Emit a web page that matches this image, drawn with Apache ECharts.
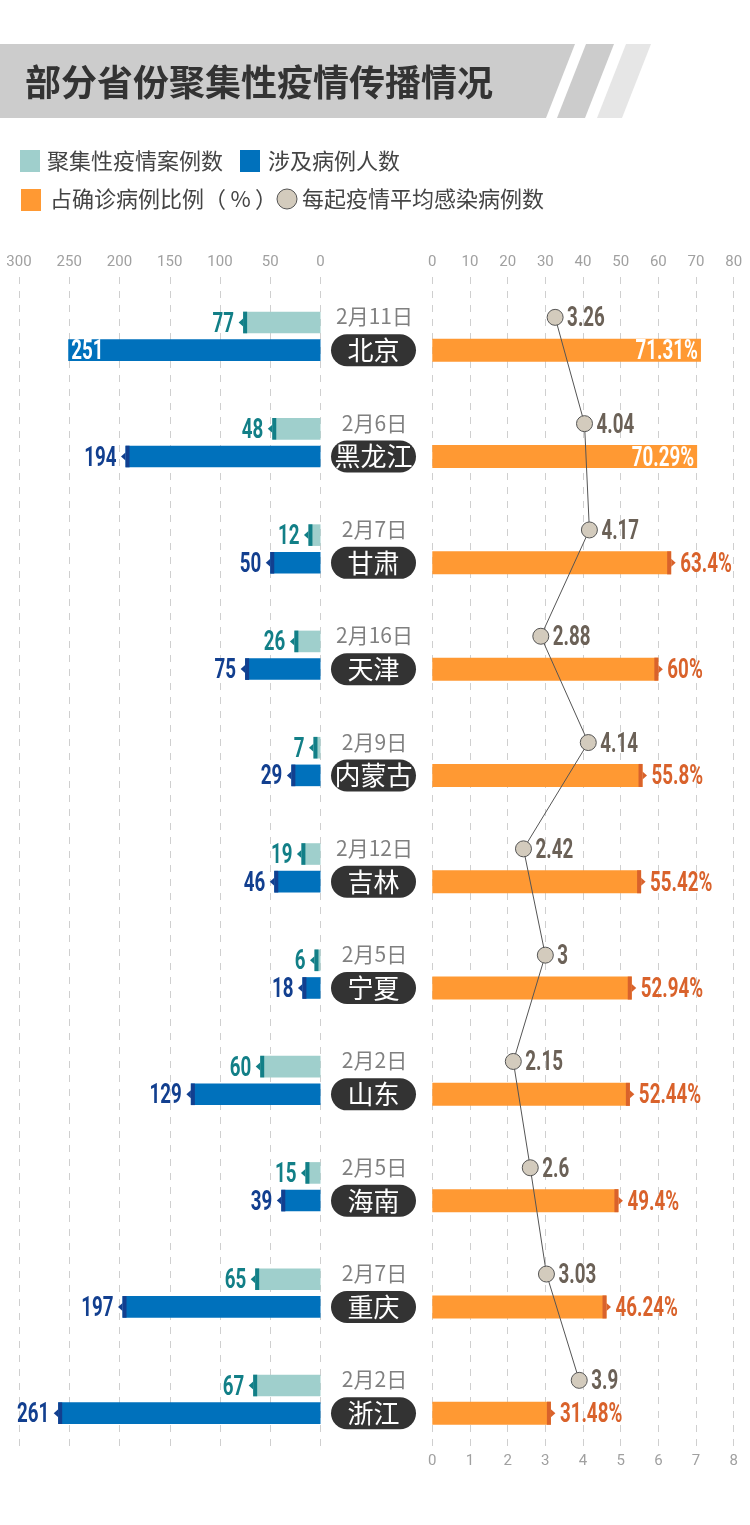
<!DOCTYPE html>
<html>
<head>
<meta charset="utf-8">
<title>部分省份聚集性疫情传播情况</title>
<style>
  html, body { margin: 0; padding: 0; background: #fff; }
  #chart { width: 750px; height: 1525px; }
</style>
<script src="https://cdn.jsdelivr.net/npm/echarts@6/dist/echarts.min.js"></script>
</head>
<body>
<div id="chart"></div>
<script>
(function () {
  const ROWS = [
    { name: '北京', date: '2月11日', clusters: 77, cases: 251, share: 71.31, avg: 3.26 },
    { name: '黑龙江', date: '2月6日', clusters: 48, cases: 194, share: 70.29, avg: 4.04 },
    { name: '甘肃', date: '2月7日', clusters: 12, cases: 50, share: 63.4, avg: 4.17 },
    { name: '天津', date: '2月16日', clusters: 26, cases: 75, share: 60, avg: 2.88 },
    { name: '内蒙古', date: '2月9日', clusters: 7, cases: 29, share: 55.8, avg: 4.14 },
    { name: '吉林', date: '2月12日', clusters: 19, cases: 46, share: 55.42, avg: 2.42 },
    { name: '宁夏', date: '2月5日', clusters: 6, cases: 18, share: 52.94, avg: 3 },
    { name: '山东', date: '2月2日', clusters: 60, cases: 129, share: 52.44, avg: 2.15 },
    { name: '海南', date: '2月5日', clusters: 15, cases: 39, share: 49.4, avg: 2.6 },
    { name: '重庆', date: '2月7日', clusters: 65, cases: 197, share: 46.24, avg: 3.03 },
    { name: '浙江', date: '2月2日', clusters: 67, cases: 261, share: 31.48, avg: 3.9 },
  ];
  const names = ROWS.map((r) => r.name);
  const NUM_FONT = 'Roboto, sans-serif';
  const CJK_FONT = '"Noto Sans CJK SC", sans-serif';
  const NUM_SCALE = 0.67; // no condensed face installed, so squeeze the numbers

  const LEFT_X = 19, LEFT_W = 301.5;
  const RIGHT_X = 432.3, RIGHT_W = 301.4;
  const BAND_TOTAL = 1169.3;
  const BAR_H = 21.6, BAR_OFFSET = 13.85;
  const PILL_CENTER = 373.5;

  function hiddenCategory(gridIndex, extra) {
    return Object.assign({
      type: 'category', gridIndex, data: names, inverse: true,
      axisLine: { show: false }, axisTick: { show: false }, axisLabel: { show: false },
      splitLine: { show: false },
    }, extra || {});
  }

  function frameAxis(gridIndex, position, max, interval, inverse, grid) {
    return {
      type: 'value', gridIndex, position, min: 0, max, interval, inverse,
      axisLine: { show: false }, axisTick: { show: false },
      axisLabel: { show: true, color: '#a0a0a0', fontFamily: NUM_FONT, fontSize: 15, margin: 7 },
      splitLine: { show: grid, lineStyle: { color: '#cfcfcf', type: [7, 7], width: 1 } },
    };
  }

  function hiddenValue(gridIndex, max, inverse) {
    return {
      type: 'value', gridIndex, min: 0, max, inverse,
      axisLine: { show: false }, axisTick: { show: false }, axisLabel: { show: false }, splitLine: { show: false },
    };
  }

  function numText(text, x, y, align, fill) {
    return {
      type: 'text', x, y: y + 2, scaleX: NUM_SCALE,
      style: { text, fill, font: 'bold 28px ' + NUM_FONT, textAlign: align, textVerticalAlign: 'middle' },
    };
  }

  // end cap with a small arrow and the value; high bars keep the value inside in white
  function endSeries(cfg) {
    return {
      type: 'custom', xAxisIndex: cfg.xAxisIndex, yAxisIndex: cfg.yAxisIndex, silent: true, z: 4,
      encode: { x: 0, y: 1 },
      data: ROWS.map((r, i) => [r[cfg.field], i]),
      renderItem: (params, api) => {
        const v = api.value(0);
        const p = api.coord([v, api.value(1)]);
        const y = p[1] + cfg.offsetY;
        const dir = cfg.dir;
        const text = v + (cfg.suffix || '');
        if (cfg.inside(v)) {
          return numText(text, p[0] - dir * 3, y, dir > 0 ? 'right' : 'left', '#fff');
        }
        const h = cfg.height;
        return {
          type: 'group',
          children: [
            { type: 'rect', shape: { x: dir > 0 ? p[0] - 4 : p[0], y: y - h / 2, width: 4, height: h }, style: { fill: cfg.color } },
            { type: 'polygon', shape: { points: [[p[0], y - 4], [p[0], y + 4], [p[0] + dir * 4.5, y]] }, style: { fill: cfg.color } },
            numText(text, p[0] + dir * 9, y, dir > 0 ? 'left' : 'right', cfg.textColor),
          ],
        };
      },
    };
  }

  const option = {
    animation: false,
    backgroundColor: '#fff',
    grid: [
      { left: LEFT_X, width: LEFT_W, top: 277, height: 1170 },
      { left: LEFT_X, width: LEFT_W, top: 283.2, height: BAND_TOTAL },
      { left: RIGHT_X, width: RIGHT_W, top: 277, height: 1170 },
      { left: RIGHT_X, width: RIGHT_W, top: 297.1, height: BAND_TOTAL },
      { left: RIGHT_X, width: RIGHT_W, top: 264.2, height: BAND_TOTAL },
    ],
    xAxis: [
      frameAxis(0, 'top', 300, 50, true, true),
      hiddenValue(1, 300, true),
      frameAxis(2, 'top', 80, 10, false, true),
      frameAxis(2, 'bottom', 8, 1, false, false),
      hiddenValue(3, 80, false),
      hiddenValue(4, 8, false),
    ],
    yAxis: [
      hiddenCategory(0),
      hiddenCategory(1),
      hiddenCategory(2),
      hiddenCategory(3, {
        axisLabel: {
          show: true, margin: RIGHT_X - PILL_CENTER, interval: 0, align: 'center',
          formatter: (v) => '{pill|' + v + '}',
          rich: {
            pill: {
              width: 85, height: 32, lineHeight: 32, align: 'center', borderRadius: 16,
              backgroundColor: '#333333', color: '#fff', fontFamily: CJK_FONT, fontSize: 26,
            },
          },
        },
      }),
      hiddenCategory(4, {
        axisLabel: {
          show: true, margin: RIGHT_X - PILL_CENTER - 1, interval: 0, align: 'center',
          formatter: (v) => '{d|' + ROWS[names.indexOf(v)].date + '}',
          rich: { d: { width: 85, align: 'center', color: '#808080', fontFamily: CJK_FONT, fontSize: 21, padding: [0, 0, 2, 0] } },
        },
      }),
    ],
    series: [
      {
        name: '聚集性疫情案例数', type: 'bar', xAxisIndex: 1, yAxisIndex: 1, barWidth: BAR_H, barGap: '28%',
        itemStyle: { color: '#9fcfcc' },
        data: ROWS.map((r) => r.clusters),
      },
      {
        name: '涉及病例人数', type: 'bar', xAxisIndex: 1, yAxisIndex: 1, barWidth: BAR_H,
        itemStyle: { color: '#0071bc' },
        data: ROWS.map((r) => r.cases),
      },
      endSeries({
        field: 'clusters', xAxisIndex: 1, yAxisIndex: 1, dir: -1, offsetY: -BAR_OFFSET, height: BAR_H,
        color: '#127f87', textColor: '#127f87', inside: () => false,
      }),
      endSeries({
        field: 'cases', xAxisIndex: 1, yAxisIndex: 1, dir: -1, offsetY: BAR_OFFSET, height: BAR_H,
        color: '#123f8f', textColor: '#123f8f', inside: (v) => v === 251,
      }),
      {
        name: '占确诊病例比例（%）', type: 'bar', xAxisIndex: 4, yAxisIndex: 3, barWidth: BAR_H + 1.4,
        itemStyle: { color: '#ff9933' },
        data: ROWS.map((r) => r.share),
      },
      endSeries({
        field: 'share', xAxisIndex: 4, yAxisIndex: 3, dir: 1, offsetY: 0, height: BAR_H + 1.4, suffix: '%',
        color: '#d9622b', textColor: '#d9622b', inside: (v) => v > 70,
      }),
      {
        name: '每起疫情平均感染病例数', type: 'line', xAxisIndex: 5, yAxisIndex: 4, z: 5,
        symbol: 'circle', symbolSize: 16,
        lineStyle: { color: '#555', width: 1 },
        itemStyle: { color: '#d3cbbd', borderColor: '#555', borderWidth: 1 },
        encode: { x: 0, y: 1 },
        data: ROWS.map((r, i) => [r.avg, i]),
      },
      {
        type: 'custom', xAxisIndex: 5, yAxisIndex: 4, silent: true, z: 6,
        encode: { x: 0, y: 1 },
        data: ROWS.map((r, i) => [r.avg, i]),
        renderItem: (params, api) => {
          const p = api.coord([api.value(0), api.value(1)]);
          return numText(String(api.value(0)), p[0] + 12, p[1], 'left', '#6b6157');
        },
      },
    ],
    graphic: [
      { type: 'polygon', shape: { points: [[0, 44], [575, 44], [546, 118], [0, 118]] }, style: { fill: '#cccccc' } },
      { type: 'polygon', shape: { points: [[586, 44], [614, 44], [585, 118], [557, 118]] }, style: { fill: '#cccccc' } },
      { type: 'polygon', shape: { points: [[626, 44], [651, 44], [622, 118], [597, 118]] }, style: { fill: '#e6e6e6' } },
      { type: 'text', x: 25, y: 82, style: { text: '部分省份聚集性疫情传播情况', fill: '#333333', font: 'bold 36px ' + CJK_FONT, textVerticalAlign: 'middle' } },

      { type: 'rect', shape: { x: 20, y: 150, width: 20, height: 22 }, style: { fill: '#9fcfcc' } },
      { type: 'text', x: 47, y: 161, style: { text: '聚集性疫情案例数', fill: '#444', font: '22px ' + CJK_FONT, textVerticalAlign: 'middle' } },
      { type: 'rect', shape: { x: 240, y: 150, width: 20, height: 22 }, style: { fill: '#0071bc' } },
      { type: 'text', x: 268, y: 161, style: { text: '涉及病例人数', fill: '#444', font: '22px ' + CJK_FONT, textVerticalAlign: 'middle' } },
      { type: 'rect', shape: { x: 21, y: 189, width: 20, height: 22 }, style: { fill: '#ff9933' } },
      { type: 'text', x: 50, y: 199, style: { text: '占确诊病例比例（\u2009%\u2009）', fill: '#444', font: '22px ' + CJK_FONT, textVerticalAlign: 'middle' } },
      { type: 'circle', shape: { cx: 287, cy: 199, r: 10 }, style: { fill: '#d3cbbd', stroke: '#555', lineWidth: 1 } },
      { type: 'text', x: 302, y: 199, style: { text: '每起疫情平均感染病例数', fill: '#444', font: '22px ' + CJK_FONT, textVerticalAlign: 'middle' } },
    ],
  };

  const chart = echarts.init(document.getElementById('chart'), null, { renderer: 'canvas' });
  chart.setOption(option);
})();
</script>
</body>
</html>
